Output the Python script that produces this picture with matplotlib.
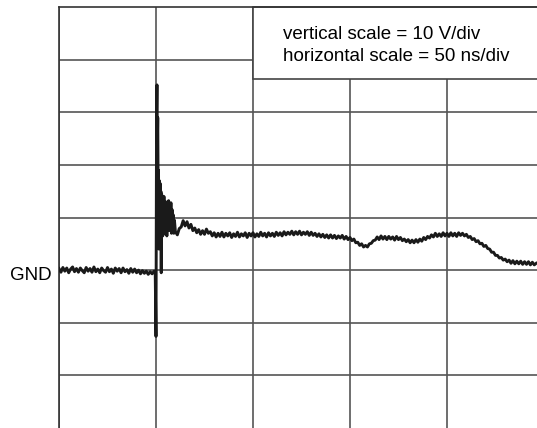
import numpy as np
import matplotlib
matplotlib.use("Agg")
import matplotlib.pyplot as plt
from matplotlib.patches import Rectangle

plt.rcParams['font.family'] = ['Liberation Sans', 'DejaVu Sans']

# scope trace, time in ns, voltage in V (GND = 0)
baseline_t = np.arange(0, 50, 1)
baseline_v = [0.3, -0.4, 0.5, -0.2, 0.4, -0.5, 0.2, 0.6, -0.3, 0.3,
              -0.4, 0.4, -0.1, -0.5, 0.5, -0.2, 0.3, -0.4, 0.6, -0.3,
              0.2, -0.5, 0.4, -0.1, -0.4, 0.5, -0.3, 0.2, -0.6, 0.4,
              -0.2, 0.3, -0.5, 0.4, -0.3, 0.1, -0.6, 0.3, -0.4, 0.2,
              -0.5, 0.0, -0.7, -0.1, -0.6, -0.2, -0.8, -0.3, -0.7, -0.2]

spike_t = [49.6, 50.0, 50.3, 50.5, 50.7, 50.9, 51.1, 51.3, 51.5, 51.7,
           51.9, 52.1, 52.3, 52.5, 52.7, 52.9, 53.1, 53.3, 53.5, 53.7,
           53.9, 54.1, 54.4, 54.7, 55.0, 55.3, 55.6, 55.9, 56.2, 56.5,
           56.8, 57.1, 57.4, 57.7, 58.0, 58.3, 58.6, 58.9, 59.2, 59.5]
spike_v = [-0.4, -12.6, 30.0, 35.2, 24.0, 29.0, 16.0, 19.0, 4.0, 17.0,
           9.0, 16.5, 7.0, 15.0, -0.5, 14.5, 8.0, 14.0, 6.5, 13.5,
           9.0, 14.0, 7.0, 13.0, 8.5, 12.5, 6.5, 13.0, 8.0, 13.2,
           7.5, 12.0, 8.0, 12.8, 7.0, 11.5, 7.5, 10.5, 7.0, 9.5]

settle_t = np.arange(60, 247, 1)
settle_v = [7.3, 6.7, 7.9, 8.2, 9.4, 8.4, 9.2, 8.0, 8.7, 7.5,
            8.0, 7.1, 7.7, 6.8, 7.5, 6.8, 7.8, 7.0, 7.3, 6.5,
            7.1, 6.3, 7.0, 6.4, 7.2, 6.3, 7.0, 6.5, 7.1, 6.2,
            6.9, 6.4, 7.2, 6.3, 6.9, 6.5, 7.1, 6.2, 7.0, 6.5,
            7.1, 6.3, 6.9, 6.4, 7.2, 6.5, 7.0, 6.3, 7.1, 6.5,
            7.0, 6.4, 7.2, 6.6, 7.1, 6.5, 7.3, 6.7, 7.2, 6.8,
            7.4, 6.7, 7.3, 6.8, 7.4, 6.7, 7.2, 6.8, 7.3, 6.6,
            7.2, 6.6, 7.0, 6.4, 6.9, 6.3, 6.8, 6.2, 6.7, 6.1,
            6.7, 6.1, 6.6, 6.0, 6.5, 6.1, 6.6, 5.9, 6.4, 5.8,
            6.2, 5.6, 5.9, 5.2, 5.3, 4.7, 5.0, 4.4, 4.7, 4.4,
            5.0, 5.1, 5.6, 5.7, 6.3, 5.8, 6.5, 5.9, 6.4, 5.8,
            6.4, 5.9, 6.3, 5.7, 6.4, 5.8, 6.2, 5.6, 5.9, 5.4,
            5.8, 5.2, 5.7, 5.2, 5.8, 5.3, 5.9, 5.5, 6.2, 5.8,
            6.4, 6.1, 6.7, 6.3, 7.0, 6.4, 6.9, 6.4, 7.1, 6.5,
            7.0, 6.4, 7.1, 6.5, 7.0, 6.4, 7.1, 6.6, 7.0, 6.5,
            6.8, 6.2, 6.4, 5.8, 6.0, 5.4, 5.6, 5.0, 5.1, 4.5,
            4.7, 4.1, 4.0, 3.4, 3.4, 2.8, 2.8, 2.3, 2.4, 1.9,
            2.1, 1.6, 1.9, 1.3, 1.8, 1.2, 1.7, 1.2, 1.7, 1.1,
            1.6, 1.1, 1.6, 1.0, 1.5, 1.0, 1.3]

t = np.concatenate([baseline_t, spike_t, settle_t])
v = np.concatenate([baseline_v, spike_v, settle_v])

fig = plt.figure(figsize=(5.37, 4.28), dpi=100)
ax = fig.add_axes([59 / 537, 0, 478 / 537, 421 / 428])

ax.plot(t, v, color="#1a1a1a", lw=2.1, zorder=3)

ax.set_xlim(0, 246.4)
ax.set_ylim(-30, 50)
ax.set_xticks([0, 50, 100, 150, 200])
ax.set_yticks([-20, -10, 0, 10, 20, 30, 40])
ax.grid(True, color="#555555", lw=1.2)
ax.set_axisbelow(True)
ax.tick_params(length=0, labelbottom=False, labelleft=False)
for side in ["right", "bottom"]:
    ax.spines[side].set_visible(False)
for side in ["left", "top"]:
    ax.spines[side].set_color("#333333")
    ax.spines[side].set_linewidth(1.2)

# legend box with the scale text
ax.add_patch(Rectangle((100, 36.3), 160, 13.7, facecolor="white",
                       edgecolor="#444444", lw=1.2, zorder=2, clip_on=False))
ax.text(115.5, 44.7, "vertical scale = 10 V/div", fontsize=13.5,
        va="center", ha="left", zorder=4)
ax.text(115.5, 40.5, "horizontal scale = 50 ns/div", fontsize=13.5,
        va="center", ha="left", zorder=4)

ax.text(-3.6, -0.95, "GND", fontsize=13.5, va="center", ha="right",
        clip_on=False)

fig.savefig("out.png", dpi=100)
